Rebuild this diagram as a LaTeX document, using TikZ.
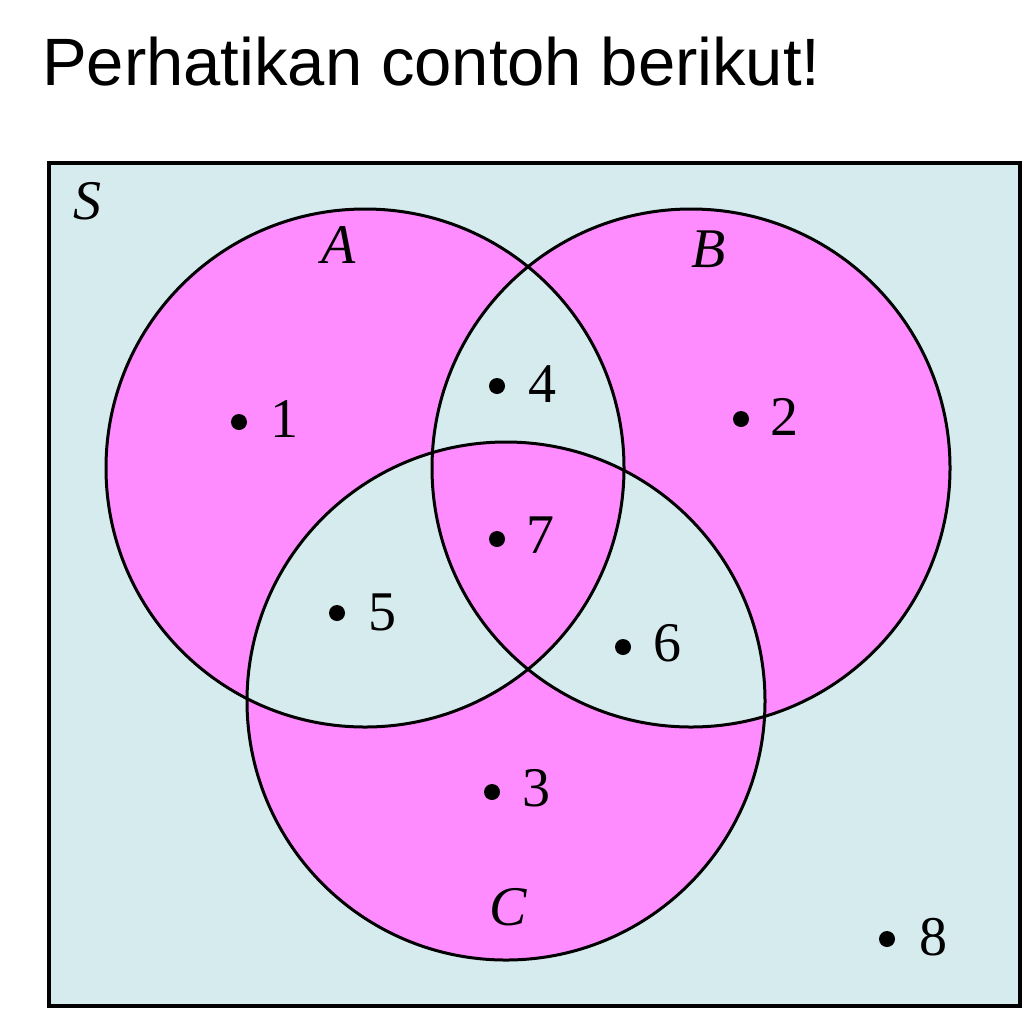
\documentclass[tikz,border=0pt]{standalone}
\usepackage{fontspec}
\setmainfont{Liberation Serif}
\newfontfamily\titlefont{Liberation Sans}
\definecolor{pinkc}{RGB}{255,140,255}
\definecolor{bluec}{RGB}{214,235,238}
\begin{document}
\begin{tikzpicture}[x=1pt,y=-1pt,
  lab/.style={font=\fontsize{56}{56}\selectfont, anchor=base, inner sep=0pt},
  setname/.style={font=\fontsize{56}{56}\selectfont\itshape, anchor=base, inner sep=0pt},
  elemdot/.style={circle, fill=black, inner sep=0pt, minimum size=16pt},
  ring/.style={draw=black, line width=3pt},
  titlestyle/.style={anchor=base west, inner sep=0pt, font=\titlefont\fontsize{67}{67}\selectfont}]
\useasboundingbox (0,0) rectangle (1024,1010);
% title
\node[titlestyle] (title) at (42,85) {Perhatikan contoh berikut!};
% universe
\draw[fill=bluec, line width=3.5pt] (49,163) rectangle (1020,1006);
\coordinate (cA) at (365,468);
\coordinate (cB) at (691,468);
\coordinate (cC) at (506,701);
\fill[pinkc, even odd rule] (cA) circle (259pt) (cB) circle (259pt) (cC) circle (259pt);
\draw[ring] (cA) circle (259pt);
\draw[ring] (cB) circle (259pt);
\draw[ring] (cC) circle (259pt);
% set names
\node[setname] (S) at (87,219) {S};
\node[setname] (A) at (339,263) {A};
\node[setname] (B) at (709,267) {B};
\node[setname] (C) at (508,925) {C};
% elements
\node[elemdot] (d1) at (239,422) {}; \node[lab] (n1) at (284,437) {1};
\node[elemdot] (d2) at (741,419) {}; \node[lab] (n2) at (784,435) {2};
\node[elemdot] (d3) at (492,792) {}; \node[lab] (n3) at (536,806) {3};
\node[elemdot] (d4) at (497,386) {}; \node[lab] (n4) at (542,402) {4};
\node[elemdot] (d5) at (337,613) {}; \node[lab] (n5) at (382,630) {5};
\node[elemdot] (d6) at (623,647) {}; \node[lab] (n6) at (667,661) {6};
\node[elemdot] (d7) at (497,539) {}; \node[lab] (n7) at (540,553) {7};
\node[elemdot] (d8) at (887,939) {}; \node[lab] (n8) at (933,955) {8};
\end{tikzpicture}
\end{document}
